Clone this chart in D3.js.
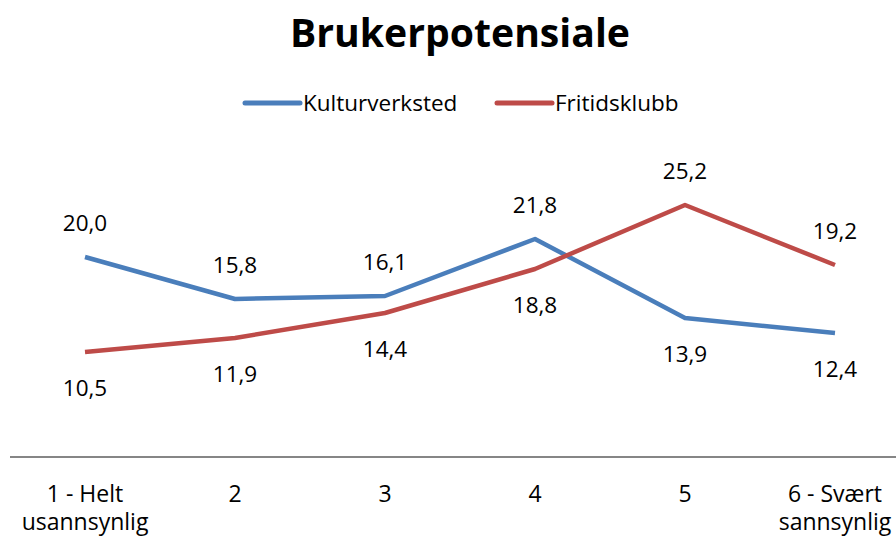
<!DOCTYPE html>
<html>
<head>
<meta charset="utf-8">
<script src="https://cdn.jsdelivr.net/npm/d3@7"></script>
<style>
  body { margin: 0; background: #fff; }
  text { font-family: "Open Sans", sans-serif; fill: #000; }
</style>
</head>
<body>
<script>
// chart data
const categories = ["1 - Helt\nusannsynlig", "2", "3", "4", "5", "6 - Svært\nsannsynlig"];
const kulturverksted = [20.0, 15.8, 16.1, 21.8, 13.9, 12.4];
const fritidsklubb = [10.5, 11.9, 14.4, 18.8, 25.2, 19.2];
const seriesNames = ["Kulturverksted", "Fritidsklubb"];
const colors = ["#4a7ebb", "#be4b48"];

const width = 896, height = 536;

const svg = d3.select("body").append("svg")
    .attr("width", width)
    .attr("height", height);

const x = d3.scalePoint()
    .domain(categories)
    .range([85, 835]);

const y = d3.scaleLinear()
    .domain([0, 30])
    .range([457, 157]);

// title
svg.append("text")
    .attr("x", 460)
    .attr("y", 47)
    .attr("text-anchor", "middle")
    .style("font-weight", "bold")
    .style("font-size", "40px")
    .attr("textLength", 340)
    .attr("lengthAdjust", "spacingAndGlyphs")
    .text("Brukerpotensiale");

// legend
const legendX = [245, 497];
const legend = svg.selectAll(".legend")
    .data(seriesNames)
    .enter().append("g")
    .attr("class", "legend")
    .attr("transform", (d, i) => `translate(${legendX[i]},103)`);

legend.append("line")
    .attr("x1", 0).attr("x2", 55)
    .attr("y1", 0).attr("y2", 0)
    .style("stroke", (d, i) => colors[i])
    .style("stroke-width", 5)
    .style("stroke-linecap", "round");

legend.append("text")
    .attr("x", 58)
    .attr("y", 8)
    .style("font-size", "22.5px")
    .text(d => d);

// x axis line
svg.append("line")
    .attr("x1", 10).attr("x2", width)
    .attr("y1", y(0)).attr("y2", y(0))
    .style("stroke", "#868686")
    .style("stroke-width", 2);

// category labels
const cat = svg.selectAll(".cat")
    .data(categories)
    .enter().append("text")
    .attr("class", "cat")
    .attr("text-anchor", "middle")
    .attr("y", 502)
    .style("font-size", "23px");

cat.selectAll("tspan")
    .data(d => d.split("\n").map(t => ({ t, c: d })))
    .enter().append("tspan")
    .attr("x", d => x(d.c))
    .attr("dy", (d, i) => i === 0 ? 0 : 28)
    .text(d => d.t);

// lines
const series = [kulturverksted, fritidsklubb];
const line = d3.line()
    .x((d, i) => x(categories[i]))
    .y(d => y(d));

svg.selectAll(".series")
    .data(series)
    .enter().append("path")
    .attr("class", "series")
    .attr("d", d => line(d))
    .style("fill", "none")
    .style("stroke", (d, i) => colors[i])
    .style("stroke-width", 4.5)
    .style("stroke-linejoin", "round");

// data labels: higher value above, lower value below
const fmt = v => v.toFixed(1).replace(".", ",");
series.forEach((vals, s) => {
    const other = series[1 - s];
    svg.selectAll(".lbl" + s)
        .data(vals)
        .enter().append("text")
        .attr("text-anchor", "middle")
        .attr("x", (d, i) => x(categories[i]))
        .attr("y", (d, i) => d >= other[i] ? y(d) - 26 : y(d) + 44)
        .style("font-size", "22.5px")
        .text(d => fmt(d));
});
</script>
</body>
</html>
